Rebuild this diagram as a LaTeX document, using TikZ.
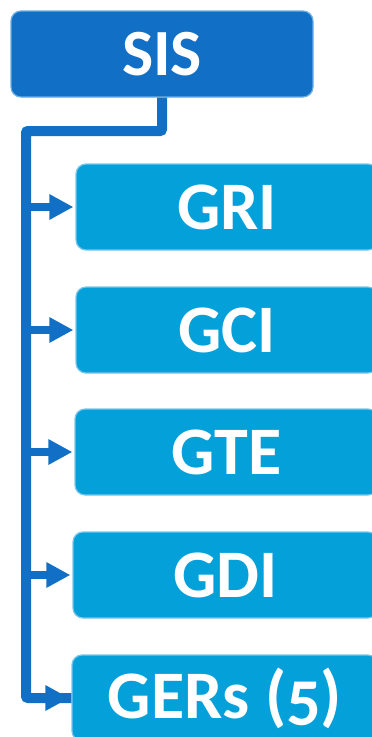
\documentclass[tikz,border=0pt]{standalone}
\usepackage{fontspec}
\setmainfont{Carlito}[Numbers=OldStyle]
\usetikzlibrary{arrows.meta}
\definecolor{topblue}{HTML}{1170C6}
\definecolor{topedge}{HTML}{6AAEE2}
\definecolor{kidblue}{HTML}{03A0DA}
\definecolor{kidedge}{HTML}{78C6EC}
\tikzset{
  topbox/.style={draw=topedge, line width=1.2pt, fill=topblue, rounded corners=10pt,
    minimum width=302pt, minimum height=86pt, inner sep=0pt, text=white,
    font=\fontsize{66}{72}\selectfont\bfseries},
  kidbox/.style={draw=kidedge, line width=1.2pt, fill=kidblue, rounded corners=10pt,
    minimum height=86pt, inner sep=0pt, text=white,
    font=\fontsize{68}{74}\selectfont\bfseries},
  trunk/.style={draw=topblue, line width=10pt, rounded corners=2pt},
  branch/.style={draw=topblue, line width=8pt, -{Triangle[length=24pt,width=24pt]}, shorten >=2pt}
}
\begin{document}
\begin{tikzpicture}[x=1pt,y=-1pt]
\useasboundingbox (0,0) rectangle (372,737);
\node[topbox] (sis) at (162,54) {SIS};
\node[kidbox, minimum width=302pt] (gri) at (227,207) {GRI};
\node[kidbox, minimum width=302pt] (gci) at (227,330) {GCI};
\node[kidbox, minimum width=303pt] (gte) at (226.5,452) {GTE};
\node[kidbox, minimum width=305pt] (gdi) at (225.5,575) {GDI};
\node[kidbox, minimum width=306pt] (gers) at (225,698) {GERs (5)};
\coordinate (tk) at (26,131);
\draw[trunk] (sis.south) |- (tk) -- (tk |- gers.west) -- (gers.west);
\draw[branch] (tk |- gers.west) -- (gers.west);
\draw[branch] (tk |- gri.west) -- (gri.west);
\draw[branch] (tk |- gci.west) -- (gci.west);
\draw[branch] (tk |- gte.west) -- (gte.west);
\draw[branch] (tk |- gdi.west) -- (gdi.west);
\end{tikzpicture}
\end{document}
